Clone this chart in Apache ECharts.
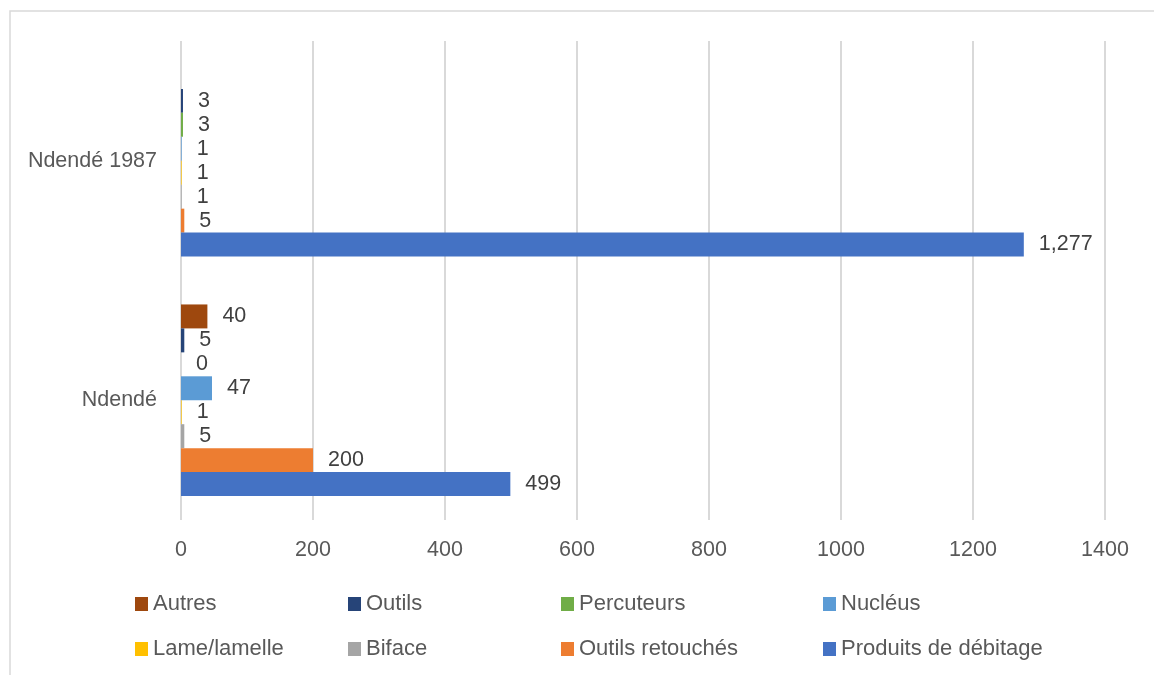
<!DOCTYPE html>
<html>
<head>
<meta charset="utf-8">
<script src="https://cdn.jsdelivr.net/npm/echarts@6/dist/echarts.min.js"></script>
<style>html,body{margin:0;padding:0;background:#fff}#c{width:1154px;height:675px}</style>
</head>
<body>
<div id="c"></div>
<script>
const categories = ['Ndendé', 'Ndendé 1987'];
const seriesNames = ['Autres', 'Outils', 'Percuteurs', 'Nucléus', 'Lame/lamelle', 'Biface', 'Outils retouchés', 'Produits de débitage'];
const colors = ['#9E480E', '#264478', '#70AD47', '#5B9BD5', '#FFC000', '#A5A5A5', '#ED7D31', '#4472C4'];
const autres = [40, null];
const outils = [5, 3];
const percuteurs = [0, 3];
const nucleus = [47, 1];
const lame = [1, 1];
const biface = [5, 1];
const outilsRetouches = [200, 5];
const produits = [499, 1277];
const xTicks = [0, 200, 400, 600, 800, 1000, 1200, 1400];

const values = [autres, outils, percuteurs, nucleus, lame, biface, outilsRetouches, produits];
const FONT = 'Liberation Sans, Arial, sans-serif';
const FS = 21.5;

const series = seriesNames.map((n, i) => ({
  name: n,
  type: 'bar',
  data: values[i],
  barGap: '0%',
  barCategoryGap: '20%',
  itemStyle: { color: colors[i] },
  label: {
    show: true, position: 'right', distance: 15,
    color: '#404040', fontSize: FS, fontFamily: FONT,
    formatter: p => p.value == null ? '' : Number(p.value).toLocaleString('en-US')
  }
}));

const legendX = [135, 348, 561, 823];
const legends = seriesNames.map((n, i) => ({
  data: [n],
  left: legendX[i % 4],
  top: i < 4 ? 593 : 638,
  itemWidth: 13, itemHeight: 14, icon: 'rect',
  textStyle: { color: '#595959', fontSize: 22, fontFamily: FONT },
  itemGap: 0, padding: 0
}));

const chart = echarts.init(document.getElementById('c'));
chart.setOption({
  animation: false,
  color: colors,
  grid: { left: 181, right: 49, top: 41, bottom: 155, containLabel: false },
  graphic: [{ type: 'rect', shape: { x: 10, y: 11, width: 1200, height: 700 }, style: { fill: 'none', stroke: '#d9d9d9', lineWidth: 1.5 }, silent: true }],
  legend: legends,
  xAxis: {
    type: 'value', min: xTicks[0], max: xTicks[xTicks.length - 1], interval: 200,
    axisLine: { show: false }, axisTick: { show: false },
    splitLine: { show: true, lineStyle: { color: '#d9d9d9', width: 2 } },
    axisLabel: { color: '#595959', fontSize: FS, fontFamily: FONT, margin: 19, formatter: v => String(v) }
  },
  yAxis: {
    type: 'category', data: categories,
    axisLine: { show: false }, axisTick: { show: false },
    axisLabel: { color: '#595959', fontSize: FS, fontFamily: FONT, margin: 24 }
  },
  series: series
});
</script>
</body>
</html>
